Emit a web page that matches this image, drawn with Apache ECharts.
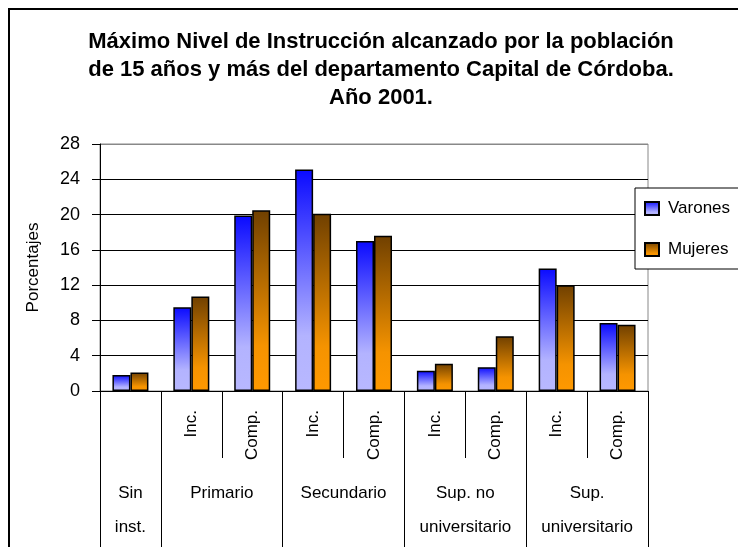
<!DOCTYPE html>
<html>
<head>
<meta charset="utf-8">
<script src="https://cdn.jsdelivr.net/npm/echarts@6/dist/echarts.min.js"></script>
<style>
  html, body { margin: 0; padding: 0; background: #fff; }
  #chart { width: 738px; height: 547px; }
</style>
</head>
<body>
<div id="chart"></div>
<script>
// sub categories (one per column) and the groups they belong to
const subLabels = ['', 'Inc.', 'Comp.', 'Inc.', 'Comp.', 'Inc.', 'Comp.', 'Inc.', 'Comp.'];
const groupLabels = ['Sin\ninst.', 'Primario', 'Secundario', 'Sup. no\nuniversitario', 'Sup.\nuniversitario'];
const groupSpan = [1, 2, 2, 2, 2];

const varones = [1.8, 9.5, 19.9, 25.1, 17.0, 2.3, 2.7, 13.9, 7.7];
const mujeres = [2.1, 10.7, 20.5, 20.1, 17.6, 3.1, 6.2, 12.0, 7.5];

const yTicks = [0, 4, 8, 12, 16, 20, 24, 28];

// second level axis: half-column points, labels in group centres, long ticks at group edges
const halfPoints = [];
const groupEdge = {};
const groupMid = {};
let pos = 0;
groupEdge[0] = true;
groupSpan.forEach(function (s, i) {
  groupMid[pos + s] = groupLabels[i];
  pos += s * 2;
  groupEdge[pos] = true;
});
for (let k = 0; k <= pos; k++) {
  halfPoints.push(groupMid[k] || '');
}

const font = "'Liberation Sans', Arial, sans-serif";

const chart = echarts.init(document.getElementById('chart'));

chart.setOption({
  backgroundColor: '#fff',
  animation: false,
  textStyle: { fontFamily: font },
  title: {
    text: 'Máximo Nivel de Instrucción alcanzado por la población\nde 15 años y más del departamento Capital de Córdoba.\nAño 2001.',
    left: 381,
    top: 28,
    padding: 0,
    textAlign: 'center',
    textStyle: {
      fontFamily: font,
      fontSize: 22,
      fontWeight: 'bold',
      color: '#000',
      lineHeight: 28
    }
  },
  graphic: [
    {
      type: 'rect',
      shape: { x: 9, y: 9, width: 900, height: 700 },
      style: { fill: null, stroke: '#000', lineWidth: 2 },
      silent: true
    }
  ],
  legend: {
    orient: 'vertical',
    left: 635,
    top: 188,
    padding: [12, 40, 11, 9],
    icon: 'rect',
    itemWidth: 14,
    itemHeight: 13,
    itemGap: 24,
    borderColor: '#000',
    borderWidth: 1,
    backgroundColor: '#fff',
    textStyle: { fontFamily: font, fontSize: 17, color: '#000', padding: [0, 0, 0, 4] },
    data: ['Varones', 'Mujeres']
  },
  grid: {
    left: 100,
    right: 90,
    top: 144,
    bottom: 156,
    show: true,
    borderColor: '#888',
    borderWidth: 1
  },
  xAxis: [
    {
      type: 'category',
      data: subLabels,
      position: 'bottom',
      axisLine: { lineStyle: { color: '#000', width: 1 } },
      axisTick: { show: true, interval: 0, length: 67, lineStyle: { color: '#000' } },
      axisLabel: {
        interval: 0,
        rotate: 90,
        margin: 19,
        fontFamily: font,
        fontSize: 17,
        color: '#000'
      },
      splitLine: { show: false }
    },
    {
      type: 'category',
      data: halfPoints,
      position: 'bottom',
      boundaryGap: false,
      axisLine: { show: false },
      axisTick: {
        show: true,
        length: 170,
        interval: function (i) { return !!groupEdge[i]; },
        lineStyle: { color: '#000' }
      },
      axisLabel: {
        interval: 0,
        margin: 85,
        fontFamily: font,
        fontSize: 17,
        lineHeight: 34,
        color: '#000'
      },
      splitLine: { show: false }
    }
  ],
  yAxis: {
    type: 'value',
    min: yTicks[0],
    max: yTicks[yTicks.length - 1],
    interval: yTicks[1] - yTicks[0],
    name: 'Porcentajes',
    nameLocation: 'middle',
    nameGap: 58,
    nameTextStyle: { fontFamily: font, fontSize: 17, color: '#000' },
    axisLine: { show: true, lineStyle: { color: '#000', width: 1 } },
    axisTick: { show: true, length: 8, lineStyle: { color: '#000' } },
    axisLabel: { margin: 20, fontFamily: font, fontSize: 18, color: '#000' },
    splitLine: {
      show: true,
      lineStyle: { color: ['#000', '#000', '#000', '#000', '#000', '#000', '#000', '#888'], width: 1 }
    }
  },
  series: [
    {
      name: 'Varones',
      type: 'bar',
      xAxisIndex: 0,
      data: varones,
      barWidth: 18,
      barGap: '0%',
      itemStyle: {
        color: new echarts.graphic.LinearGradient(0, 0, 0, 1, [
          { offset: 0, color: '#0a0aff' },
          { offset: 0.75, color: '#b3b3ff' },
          { offset: 1, color: '#b8b8ff' }
        ]),
        borderColor: '#000',
        borderWidth: 1.5
      }
    },
    {
      name: 'Mujeres',
      type: 'bar',
      xAxisIndex: 0,
      data: mujeres,
      barWidth: 18,
      barGap: '0%',
      itemStyle: {
        color: new echarts.graphic.LinearGradient(0, 0, 0, 1, [
          { offset: 0, color: '#704000' },
          { offset: 0.75, color: '#f59300' },
          { offset: 1, color: '#ff9900' }
        ]),
        borderColor: '#000',
        borderWidth: 1.5
      }
    }
  ]
});
</script>
</body>
</html>
